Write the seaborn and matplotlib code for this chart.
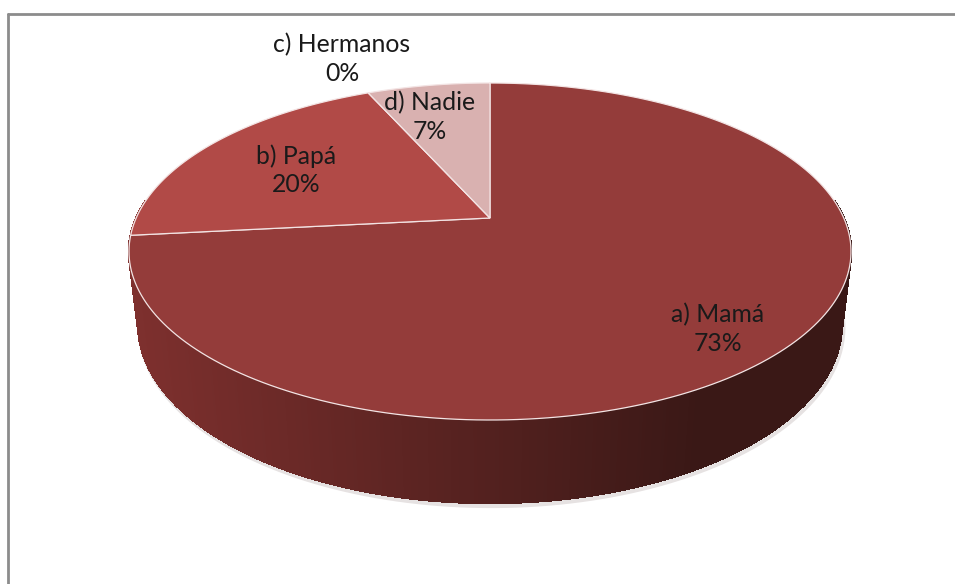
import numpy as np
import matplotlib
matplotlib.use("Agg")
import matplotlib.pyplot as plt
from matplotlib.patches import Polygon
from matplotlib.collections import PolyCollection
from matplotlib.lines import Line2D
import seaborn as sns

# Data (respondent counts)
categories = ["a) Mamá", "b) Papá", "c) Hermanos", "d) Nadie"]
counts = [11, 3, 0, 1]
top_colors = ["#943c3a", "#b14a47", "#c96a66", "#d9b1b0"]
wall_light = ["#7e302e", "#8d3936", "#8d3936", "#a07a79"]
wall_dark = "#3a1816"

# Layout in pixels (figure is 955x584), perspective of the 3D disc
W, H = 955, 584
CX = 490
A, B, C = 218.0, -118.5, 0.1988      # top face: y = (A + B*v) / (1 + C*v)
S = 353.8                             # top face half width
G, E = 79.1, 0.025                    # wall depth and shrink of the bottom face
label_px = {"a) Mamá": (718, 329), "b) Papá": (296, 170),
            "c) Hermanos": (342, 59), "d) Nadie": (430, 117)}

sns.set_theme(style="white")
plt.rcParams["font.family"] = ["Lato", "DejaVu Sans"]

fig = plt.figure(figsize=(W / 100, H / 100), dpi=100)
ax = fig.add_axes([0, 0, 1, 1])

# pie gives the slice angles; the slices are drawn again in perspective
wedges, _ = ax.pie(counts, startangle=90, counterclock=False, frame=True)
for w in wedges:
    w.set_visible(False)


def proj(u, v, z=0.0):
    den = 1 + C * v + E * z
    return CX + S * u / den, (A + B * v + G * z) / den


def mix(c0, c1, t):
    c0 = np.array(matplotlib.colors.to_rgb(c0))
    c1 = np.array(matplotlib.colors.to_rgb(c1))
    return tuple(c0 * (1 - t) + c1 * t)


# side wall, drawn as thin shaded strips (back to front)
quads, keys, cols = [], [], []
for i, w in enumerate(wedges):
    t1 = w.theta1 % 360
    t2 = t1 + (w.theta2 - w.theta1)
    if t2 - t1 <= 0:
        continue
    angs = np.radians(np.arange(t1, t2 + 0.5, 0.5).clip(t1, t2))
    for a0, a1 in zip(angs[:-1], angs[1:]):
        if min(np.sin(a0), np.sin(a1)) > 0.1:
            continue
        p0, p1 = proj(np.cos(a0), np.sin(a0)), proj(np.cos(a1), np.sin(a1))
        q0, q1 = proj(np.cos(a0), np.sin(a0), 1), proj(np.cos(a1), np.sin(a1), 1)
        quads.append([p0, p1, q1, q0])
        keys.append(np.sin(a0) + np.sin(a1))
        xm = (p0[0] + p1[0]) / 2
        cols.append(mix(wall_light[i], wall_dark, np.clip((xm - 130) / 570, 0, 1)))
order = np.argsort(keys)[::-1]
ax.add_collection(PolyCollection([quads[k] for k in order],
                                 facecolors=[cols[k] for k in order],
                                 edgecolors=[cols[k] for k in order],
                                 linewidths=1.0, antialiaseds=False, zorder=1))

# outline of the bottom rim with a soft shadow
rim = np.radians(np.linspace(160, 380, 300))
bx_, by_ = proj(np.cos(rim), np.sin(rim), 1)
ax.plot(bx_ + 1.5, by_ + 3, color="#e6e2e2", lw=3, zorder=0.8)
ax.plot(bx_, by_, color="#c9bebe", lw=1.2, zorder=0.9)

# top face slices
for i, w in enumerate(wedges):
    ang = np.radians(np.linspace(w.theta1, w.theta2, 200))
    xs, ys = proj(np.cos(ang), np.sin(ang))
    x0, y0 = proj(0.0, 0.0)
    pts = np.vstack([[x0, y0], np.column_stack([xs, ys])])
    ax.add_patch(Polygon(pts, closed=True, facecolor=top_colors[i],
                         edgecolor="#f3e4e4", linewidth=0.9, zorder=3))

total = sum(counts)
for name, c in zip(categories, counts):
    px, py = label_px[name]
    ax.text(px, py, f"{name}\n{round(100 * c / total)}%",
            ha="center", va="center", fontsize=17.8, color="#1a1a1a",
            linespacing=1.28, zorder=5)

ax.set_aspect("auto")
ax.set_xlim(0, W)
ax.set_ylim(H, 0)
ax.axis("off")

# chart-area border (top and left edges visible in the crop)
bx, by = 8 / W, 1 - 14 / H
fig.add_artist(Line2D([bx, bx], [0, by], transform=fig.transFigure, color="#8c8c8c", lw=2))
fig.add_artist(Line2D([bx, 1], [by, by], transform=fig.transFigure, color="#8c8c8c", lw=2))

fig.savefig("out.png", dpi=100)
plt.close(fig)
